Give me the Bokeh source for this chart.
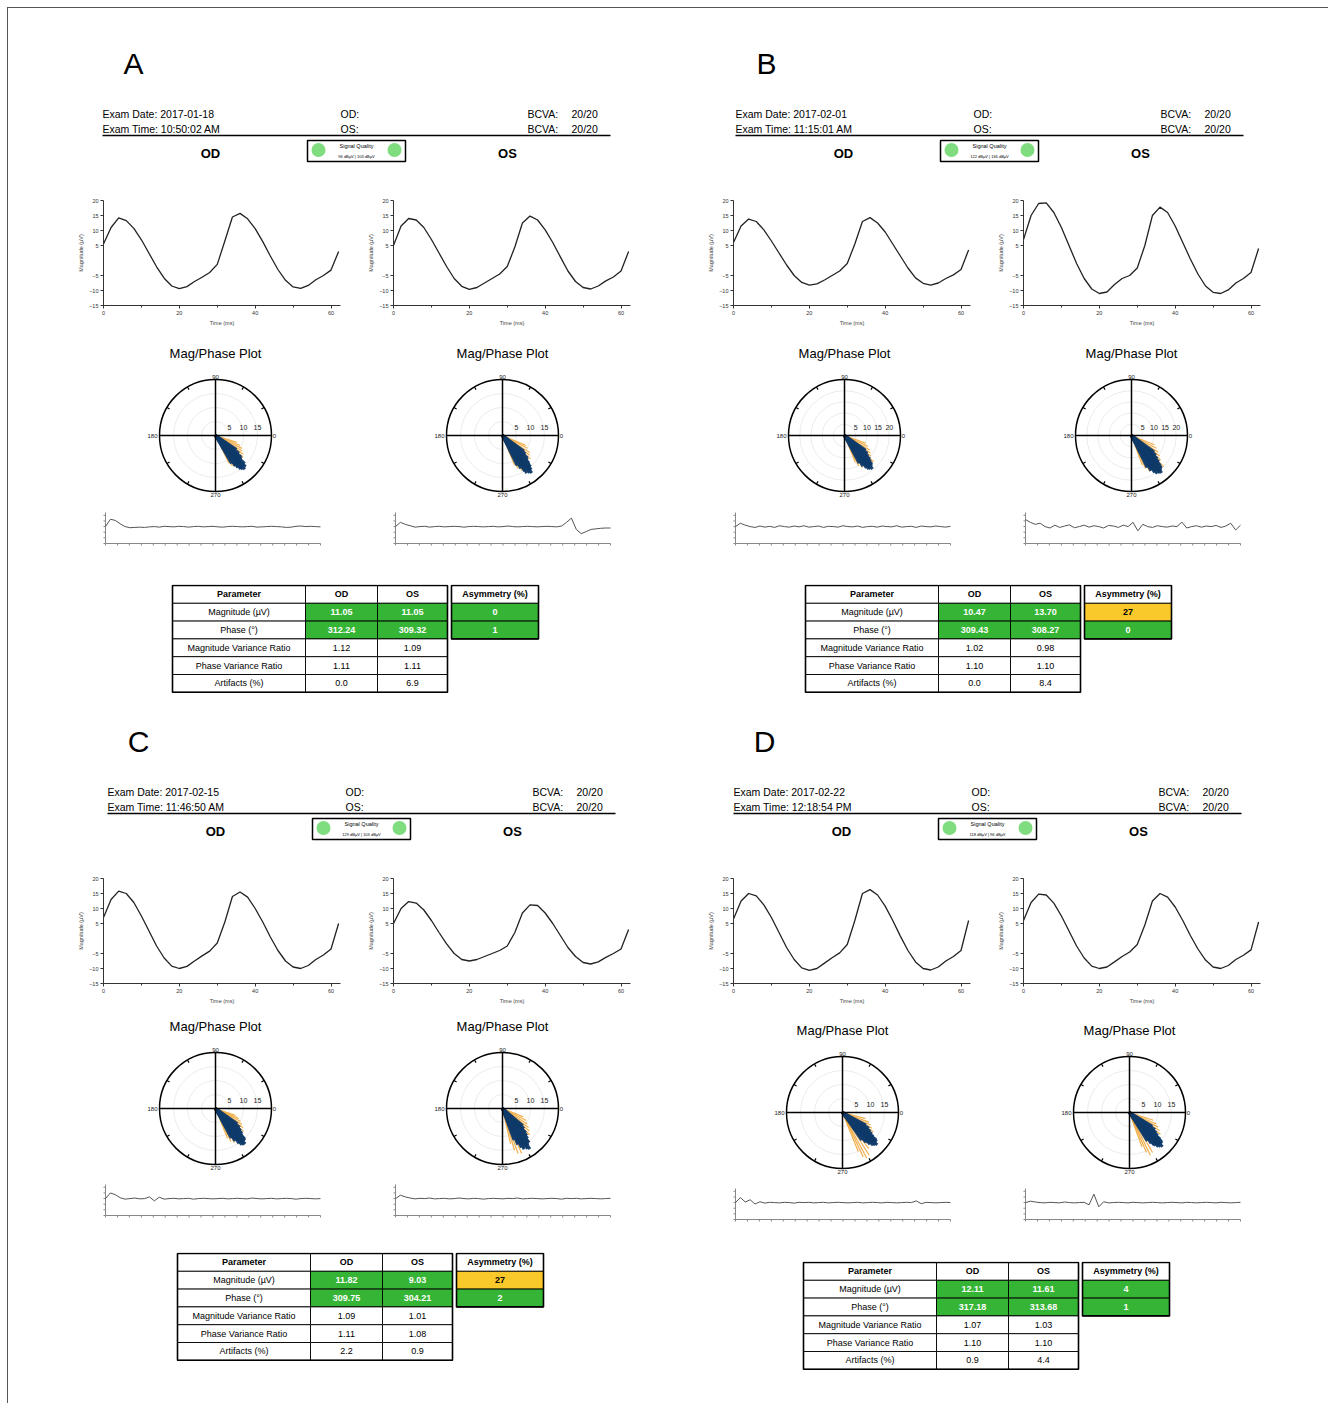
import math
from bokeh.plotting import figure
from bokeh.models import Range1d, Spacer, FixedTicker, SingleIntervalTicker
from bokeh.layouts import row, column
from bokeh.core.properties import value
from bokeh.embed import file_html
from bokeh.resources import INLINE

FONT = "Liberation Sans"

# ---------------- data ----------------
PANELS = ["A", "B", "C", "D"]
EXAM_DATES = ["2017-01-18", "2017-02-01", "2017-02-15", "2017-02-22"]
EXAM_TIMES = ["10:50:02 AM", "11:15:01 AM", "11:46:50 AM", "12:18:54 PM"]
BCVA_OD = ["20/20", "20/20", "20/20", "20/20"]
BCVA_OS = ["20/20", "20/20", "20/20", "20/20"]
SIGNAL_QUALITY = ["96 dBµV | 103 dBµV", "122 dBµV | 136 dBµV",
                  "129 dBµV | 103 dBµV", "118 dBµV | 96 dBµV"]

TABLE_PARAMS = ["Parameter", "Magnitude (µV)", "Phase (°)",
                "Magnitude Variance Ratio", "Phase Variance Ratio", "Artifacts (%)"]
MAG_OD = [11.05, 10.47, 11.82, 12.11]
MAG_OS = [11.05, 13.70, 9.03, 11.61]
PHASE_OD = [312.24, 309.43, 309.75, 317.18]
PHASE_OS = [309.32, 308.27, 304.21, 313.68]
MVR_OD = [1.12, 1.02, 1.09, 1.07]
MVR_OS = [1.09, 0.98, 1.01, 1.03]
PVR_OD = [1.11, 1.10, 1.11, 1.10]
PVR_OS = [1.11, 1.10, 1.08, 1.10]
ART_OD = [0.0, 0.0, 2.2, 0.9]
ART_OS = [6.9, 8.4, 0.9, 4.4]
ASYM_MAG = [0, 27, 27, 4]
ASYM_PHASE = [1, 0, 2, 1]

TIME_MS = [0, 2, 4, 6, 8, 10, 12, 14, 16, 18, 20, 22, 24, 26, 28, 30,
           32, 34, 36, 38, 40, 42, 44, 46, 48, 50, 52, 54, 56, 58, 60, 62]
A_OD_WAVE = [5.5, 11.0, 14.2, 13.3, 10.7, 6.9, 2.4, -2.1, -5.9, -8.5, -9.4, -8.7, -7.0, -5.6, -4.0, -1.3,
             6.5, 14.5, 15.7, 13.9, 10.6, 6.3, 1.5, -3.0, -6.6, -8.8, -9.3, -8.3, -6.4, -5.0, -3.2, 3.0]
A_OS_WAVE = [5.0, 11.5, 14.0, 13.5, 11.0, 7.0, 2.5, -2.0, -6.0, -8.6, -9.6, -9.0, -7.5, -6.0, -4.5, -2.0,
             4.5, 12.5, 14.8, 13.5, 10.2, 6.0, 1.2, -3.5, -7.0, -9.0, -9.5, -8.5, -6.8, -5.5, -3.5, 3.0]
B_OD_WAVE = [6.0, 11.5, 13.8, 13.0, 10.2, 6.5, 2.5, -1.5, -5.0, -7.3, -8.2, -7.8, -6.5, -5.0, -3.5, -1.0,
             5.5, 13.0, 14.3, 12.5, 9.5, 5.5, 1.5, -2.5, -5.8, -7.6, -8.2, -7.5, -6.0, -4.8, -3.0, 3.5]
B_OS_WAVE = [7.0, 15.0, 19.0, 19.2, 16.0, 11.0, 5.0, -1.0, -6.0, -9.5, -11.0, -10.5, -8.0, -6.0, -5.0, -2.5,
             5.0, 15.0, 17.8, 16.0, 11.5, 6.0, 0.5, -4.5, -8.5, -10.6, -11.0, -9.8, -7.5, -6.0, -4.0, 4.0]
C_OD_WAVE = [7.0, 13.0, 15.8, 15.0, 12.0, 7.5, 2.5, -2.5, -6.5, -9.2, -10.0, -9.3, -7.5, -5.8, -4.2, -1.5,
             5.5, 14.0, 15.5, 13.8, 10.0, 5.5, 0.5, -4.0, -7.5, -9.5, -10.0, -9.0, -7.0, -5.5, -3.5, 5.0]
C_OS_WAVE = [5.0, 10.0, 12.3, 11.8, 9.5, 6.0, 2.0, -1.8, -5.0, -7.0, -7.5, -7.0, -6.0, -5.0, -4.0, -2.5,
             2.0, 8.5, 11.2, 11.0, 8.5, 5.0, 1.0, -3.0, -6.0, -8.0, -8.5, -7.8, -6.3, -5.0, -3.5, 3.0]
D_OD_WAVE = [6.5, 12.5, 15.0, 14.2, 11.2, 7.0, 2.0, -3.0, -7.0, -9.8, -10.6, -10.0, -8.2, -6.4, -4.8, -2.0,
             6.0, 15.0, 16.3, 14.5, 10.8, 6.0, 0.8, -4.0, -7.8, -10.0, -10.5, -9.5, -7.5, -6.0, -4.0, 6.0]
D_OS_WAVE = [6.0, 12.0, 14.8, 14.5, 11.8, 7.5, 2.5, -2.5, -6.5, -9.2, -10.0, -9.5, -7.8, -6.0, -4.5, -2.0,
             4.5, 12.5, 15.0, 13.8, 10.5, 6.0, 1.0, -3.5, -7.2, -9.5, -10.0, -9.0, -7.0, -5.6, -3.8, 5.5]

# artifact traces (arbitrary units)
A_OD_TRACE = [0.0, 2.6, 2.2, 1.0, 0.0, -0.4, -0.3, -0.2, -0.3, -0.1, 0.0, -0.2, 0.1, 0.0, -0.1, 0.1, 0.0,
              -0.2, 0.0, 0.1, -0.1, 0.0, 0.1, -0.1, -0.2, 0.0, 0.1, 0.0, -0.1, 0.0, 0.1, -0.2, -0.1, 0.0,
              0.1, 0.0, -0.1, -0.3, -0.2, 0.1, 0.2, 0.0, 0.1, 0.0, -0.1]
A_OS_TRACE = [0.0, 1.5, 0.8, 0.3, -0.2, 0.0, 0.1, -0.2, 0.0, 0.1, -0.1, 0.0, 0.1, 0.0, -0.2, 0.0, 0.1,
              0.0, -0.1, 0.0, 0.1, -0.1, 0.0, 0.2, 0.0, -0.1, 0.0, 0.1, 0.0, -0.1, 0.0, 0.1, 0.0, -0.1,
              0.2, 1.5, 3.0, -1.0, -2.5, -1.8, -1.0, -0.8, -0.6, -0.5, -0.5]
B_OD_TRACE = [0.0, 1.2, 0.5, 0.0, -0.3, 0.2, -0.2, 0.1, -0.3, 0.3, 0.0, -0.2, 0.2, -0.1, 0.3, -0.2, 0.0,
              0.2, -0.3, 0.1, 0.0, -0.2, 0.3, 0.0, -0.1, 0.2, -0.3, 0.0, 0.1, -0.2, 0.2, 0.0, -0.1, 0.3,
              -0.2, 0.0, 0.1, -0.3, 0.2, 0.0, -0.1, 0.2, 0.0, -0.2, 0.1]
B_OS_TRACE = [2.5, 1.5, 0.8, 1.2, 0.0, -0.5, 0.5, -0.3, 0.2, 0.6, -0.4, 0.0, 0.5, -0.2, 0.3, 0.0, -0.5,
              0.4, 0.2, -0.3, 0.5, 0.0, 1.5, -1.5, 0.8, 0.0, -0.3, 0.3, 0.0, -0.2, 0.2, 0.0, 1.6, -0.5,
              0.0, 0.3, -0.2, 0.2, 0.0, 0.4, -0.3, 0.2, 1.2, -1.2, 0.5]
C_OD_TRACE = [0.0, 2.0, 1.4, 0.3, -0.2, 0.0, 0.2, -0.1, 0.0, 0.6, -0.8, 0.5, -0.2, 0.0, 0.1, -0.1, 0.0,
              0.1, -0.2, 0.0, 0.1, 0.0, -0.1, 0.0, 0.1, -0.1, 0.0, 0.1, 0.0, -0.1, 0.2, 0.0, -0.1, 0.0,
              0.1, -0.1, 0.0, 0.1, 0.0, -0.2, 0.0, 0.1, 0.0, -0.1, 0.0]
C_OS_TRACE = [0.0, 1.2, 0.6, 0.2, -0.1, 0.1, 0.0, 0.2, -0.1, 0.0, 0.1, -0.1, 0.0, 0.2, 0.0, -0.1, 0.1,
              0.0, -0.2, 0.0, 0.1, 0.0, -0.1, 0.1, 0.0, 0.2, -0.1, 0.0, 0.1, 0.0, -0.1, 0.0, 0.1, 0.0,
              -0.2, 0.1, 0.0, 0.1, -0.1, 0.0, 0.1, 0.0, -0.1, 0.0, 0.1]
D_OD_TRACE = [0.0, 1.8, 0.2, 1.0, -0.5, 0.3, -0.2, 0.1, 0.0, -0.1, 0.1, 0.0, -0.2, 0.1, 0.0, 0.1, -0.1,
              0.0, 0.1, -0.1, 0.0, 0.1, 0.0, -0.1, 0.0, 0.1, -0.1, 0.0, 0.1, 0.0, -0.1, 0.1, 0.0, -0.1,
              0.0, 0.1, 0.0, 0.6, -0.4, 0.1, 0.0, -0.1, 0.0, 0.1, 0.0]
D_OS_TRACE = [0.0, 0.5, 0.2, 0.0, -0.1, 0.1, 0.0, -0.1, 0.2, 0.0, -0.1, 0.0, 0.1, -0.8, 3.0, -1.5, 0.3,
              -0.1, 0.0, 0.1, 0.0, -0.1, 0.1, 0.0, -0.1, 0.0, 0.1, 0.0, -0.1, 0.0, 0.1, 0.0, -0.1, 0.1,
              0.0, -0.1, 0.0, 0.1, 0.0, -0.1, 0.1, 0.0, -0.1, 0.0, 0.1]

# polar (mag/phase) spokes: angle in degrees, magnitude in µV
POLAR_RMAX = [20, 25, 20, 20]
POLAR_RINGS = [[5, 10, 15], [5, 10, 15, 20], [5, 10, 15], [5, 10, 15]]

A_OD_BLUE_ANG = [300, 303, 305, 307, 308, 309, 310, 311, 312, 313, 314, 315, 316, 318, 320, 323, 326, 306]
A_OD_BLUE_MAG = [11.5, 13.0, 14.0, 15.0, 13.5, 15.5, 14.5, 16.0, 15.0, 14.0, 15.5, 13.0, 14.5, 12.5, 12.0, 10.5, 9.0, 12.0]
A_OD_ORNG_ANG = [296, 299, 302, 322, 326, 330, 334, 338, 342]
A_OD_ORNG_MAG = [11.0, 12.5, 13.0, 12.5, 12.0, 11.0, 10.5, 9.5, 8.0]
A_OS_BLUE_ANG = [296, 299, 302, 304, 306, 307, 308, 309, 310, 311, 312, 314, 316, 318, 321, 324, 303, 313]
A_OS_BLUE_MAG = [12.0, 13.5, 15.0, 14.0, 16.5, 15.0, 17.0, 15.5, 16.0, 14.5, 15.0, 13.5, 12.5, 12.0, 10.5, 9.5, 16.0, 14.0]
A_OS_ORNG_ANG = [292, 295, 299, 320, 324, 328, 333, 337]
A_OS_ORNG_MAG = [11.5, 13.0, 14.5, 13.0, 12.0, 11.5, 10.0, 9.0]

B_OD_BLUE_ANG = [298, 301, 304, 306, 307, 308, 309, 310, 311, 312, 313, 315, 317, 319, 322, 325, 303, 314]
B_OD_BLUE_MAG = [14.0, 16.0, 17.5, 18.5, 17.0, 19.0, 18.0, 19.5, 18.5, 17.0, 18.0, 16.5, 15.5, 14.0, 13.0, 11.5, 15.0, 17.5]
B_OD_ORNG_ANG = [292, 295, 299, 322, 326, 330, 335, 340, 318]
B_OD_ORNG_MAG = [13.0, 15.0, 16.5, 15.0, 14.0, 13.0, 11.5, 10.0, 17.5]
B_OS_BLUE_ANG = [296, 299, 302, 304, 306, 307, 308, 309, 310, 311, 312, 314, 316, 318, 321, 324, 301, 313]
B_OS_BLUE_MAG = [16.0, 18.0, 19.5, 20.5, 19.0, 21.0, 20.0, 21.5, 20.5, 19.0, 20.0, 18.5, 17.0, 15.5, 14.0, 12.5, 17.5, 19.5]
B_OS_ORNG_ANG = [290, 293, 297, 320, 324, 328, 333, 338, 316]
B_OS_ORNG_MAG = [14.0, 16.0, 18.0, 17.0, 15.5, 14.0, 12.5, 11.0, 20.0]

C_OD_BLUE_ANG = [298, 301, 304, 306, 307, 308, 309, 310, 311, 312, 313, 315, 317, 319, 322, 325, 303, 314]
C_OD_BLUE_MAG = [12.0, 13.5, 15.0, 16.0, 14.5, 16.5, 15.0, 16.5, 15.5, 14.5, 15.5, 13.5, 13.0, 12.0, 11.0, 9.5, 13.0, 15.0]
C_OD_ORNG_ANG = [292, 295, 299, 321, 325, 329, 333, 337, 341]
C_OD_ORNG_MAG = [11.5, 13.0, 14.0, 13.0, 12.0, 11.0, 10.0, 9.0, 7.5]
C_OS_BLUE_ANG = [290, 293, 296, 298, 300, 302, 303, 304, 305, 306, 308, 310, 312, 314, 317, 320, 299, 307]
C_OS_BLUE_MAG = [12.0, 14.0, 15.5, 16.5, 15.0, 17.0, 16.0, 17.5, 16.0, 15.0, 15.5, 14.0, 13.0, 12.0, 10.5, 9.5, 16.0, 14.5]
C_OS_ORNG_ANG = [283, 286, 289, 293, 316, 320, 324, 328, 333, 338]
C_OS_ORNG_MAG = [13.0, 15.5, 17.0, 17.5, 13.5, 12.5, 11.5, 10.5, 9.5, 8.0]

D_OD_BLUE_ANG = [305, 308, 311, 313, 314, 315, 316, 317, 318, 319, 320, 322, 324, 326, 329, 332, 310, 321]
D_OD_BLUE_MAG = [12.0, 13.5, 15.0, 16.0, 14.5, 16.5, 15.0, 17.0, 16.0, 15.0, 16.0, 14.0, 13.0, 12.0, 11.0, 9.5, 14.0, 15.5]
D_OD_ORNG_ANG = [292, 295, 298, 302, 306, 328, 332, 336, 340, 345]
D_OD_ORNG_MAG = [15.0, 17.5, 18.5, 18.0, 16.0, 13.0, 12.0, 11.0, 10.0, 8.5]
D_OS_BLUE_ANG = [302, 305, 308, 310, 311, 312, 313, 314, 315, 316, 317, 319, 321, 323, 326, 329, 307, 318]
D_OS_BLUE_MAG = [12.0, 13.5, 15.0, 16.0, 14.5, 16.5, 15.5, 17.0, 16.0, 15.0, 16.0, 14.5, 13.0, 12.0, 11.0, 9.5, 14.5, 15.5]
D_OS_ORNG_ANG = [290, 293, 296, 300, 325, 329, 333, 337, 342]
D_OS_ORNG_MAG = [13.0, 15.5, 17.0, 16.5, 13.5, 12.5, 11.5, 10.5, 9.0]

WAVE_OD = [A_OD_WAVE, B_OD_WAVE, C_OD_WAVE, D_OD_WAVE]
WAVE_OS = [A_OS_WAVE, B_OS_WAVE, C_OS_WAVE, D_OS_WAVE]
TRACE_OD = [A_OD_TRACE, B_OD_TRACE, C_OD_TRACE, D_OD_TRACE]
TRACE_OS = [A_OS_TRACE, B_OS_TRACE, C_OS_TRACE, D_OS_TRACE]
POLAR_OD = [(A_OD_BLUE_ANG, A_OD_BLUE_MAG, A_OD_ORNG_ANG, A_OD_ORNG_MAG),
            (B_OD_BLUE_ANG, B_OD_BLUE_MAG, B_OD_ORNG_ANG, B_OD_ORNG_MAG),
            (C_OD_BLUE_ANG, C_OD_BLUE_MAG, C_OD_ORNG_ANG, C_OD_ORNG_MAG),
            (D_OD_BLUE_ANG, D_OD_BLUE_MAG, D_OD_ORNG_ANG, D_OD_ORNG_MAG)]
POLAR_OS = [(A_OS_BLUE_ANG, A_OS_BLUE_MAG, A_OS_ORNG_ANG, A_OS_ORNG_MAG),
            (B_OS_BLUE_ANG, B_OS_BLUE_MAG, B_OS_ORNG_ANG, B_OS_ORNG_MAG),
            (C_OS_BLUE_ANG, C_OS_BLUE_MAG, C_OS_ORNG_ANG, C_OS_ORNG_MAG),
            (D_OS_BLUE_ANG, D_OS_BLUE_MAG, D_OS_ORNG_ANG, D_OS_ORNG_MAG)]

# ---------------- layout constants ----------------
PANEL_W = 633
# header height, header dy, spacer after waves, after polar, after trace, dx (header/table), polar dx, wave dx
PANEL_LAYOUT = [(182, 0, 7, 3, 36, 0, 0, 0), (182, 0, 7, 3, 36, 0, -4, -3),
                (172, -10, 2, 2, 32, 5, 0, 0), (172, -10, 6, 2, 37, -2, -6, -3)]

GREEN = "#36b436"
YELLOW = "#f9c92c"
BLUE = "#0f3a69"
ORANGE = "#f0a637"

TRACE_XMAX = 180
TRACE_TICKS_X = [0, 10, 20, 30, 40, 50, 60, 70, 80, 90, 100, 110, 120, 130, 140, 150, 160, 170, 180]
TRACE_TICKS_Y = [-6, -4, -2, 0, 2, 4]


def base_fig(w, h, xr, yr):
    p = figure(width=w, height=h, x_range=Range1d(*xr), y_range=Range1d(*yr),
               x_axis_type=None, y_axis_type=None, toolbar_location=None,
               output_backend="svg", min_border=0)
    p.outline_line_color = None
    p.background_fill_color = "white"
    p.border_fill_color = "white"
    return p


def txt(p, x, y, s, size, align="left", style="normal", color="black"):
    p.text(x=[x], y=[y], text=[s], text_font=value(FONT), text_font_size=size,
           text_align=align, text_baseline="middle", text_font_style=style,
           text_color=color)


def make_header(i, h, dy, dx):
    p = base_fig(PANEL_W, h, (0, PANEL_W), (h, 0))
    txt(p, 125 + dx, 55 + dy, PANELS[i], "30px", align="center")
    txt(p, 94 + dx, 105 + dy, "Exam Date: " + EXAM_DATES[i], "10.5px")
    txt(p, 94 + dx, 120 + dy, "Exam Time: " + EXAM_TIMES[i], "10.5px")
    txt(p, 332 + dx, 105 + dy, "OD:", "10.5px")
    txt(p, 332 + dx, 120 + dy, "OS:", "10.5px")
    txt(p, 519 + dx, 105 + dy, "BCVA:", "10.5px")
    txt(p, 563 + dx, 105 + dy, BCVA_OD[i], "10.5px")
    txt(p, 519 + dx, 120 + dy, "BCVA:", "10.5px")
    txt(p, 563 + dx, 120 + dy, BCVA_OS[i], "10.5px")
    p.segment(x0=[94 + dx], y0=[127 + dy], x1=[602 + dx], y1=[127 + dy],
              line_color="black", line_width=1.3)
    txt(p, 202 + dx, 145 + dy, "OD", "13px", align="center", style="bold")
    txt(p, 499 + dx, 145 + dy, "OS", "13px", align="center", style="bold")
    p.quad(left=[299 + dx], right=[397 + dx], top=[132 + dy], bottom=[153 + dy],
           fill_color="white", line_color="black", line_width=1.5)
    p.circle(x=[310 + dx, 386 + dx], y=[141.5 + dy, 141.5 + dy], radius=7,
             fill_color="#7fdc7f", line_color=None)
    txt(p, 348 + dx, 137 + dy, "Signal Quality", "5.5px", align="center")
    txt(p, 348 + dx, 148 + dy, SIGNAL_QUALITY[i], "4px", align="center")
    return p


def make_wave(vals):
    p = figure(width=270, height=145, x_range=Range1d(0, 62.5), y_range=Range1d(-15, 20),
               toolbar_location=None, output_backend="svg",
               min_border_left=25, min_border_right=5, min_border_top=10, min_border_bottom=30)
    p.line(TIME_MS, vals, line_color="#222222", line_width=1.3, line_join="round")
    p.grid.visible = False
    p.outline_line_color = None
    p.xaxis.ticker = SingleIntervalTicker(interval=20, num_minor_ticks=2)
    p.yaxis.ticker = FixedTicker(ticks=[-15, -10, -5, 5, 10, 15, 20])
    p.xaxis.axis_label = "Time (ms)"
    p.yaxis.axis_label = "Magnitude (µV)"
    for ax in p.axis:
        ax.axis_line_color = "#333333"
        ax.axis_line_width = 1
        ax.major_tick_line_color = "#333333"
        ax.minor_tick_line_color = "#333333"
        ax.major_tick_out = 3
        ax.major_tick_in = 0
        ax.minor_tick_in = 0
        ax.major_label_standoff = 2
        ax.major_label_text_font = FONT
        ax.major_label_text_font_size = "5.5px"
        ax.major_label_text_color = "#333333"
        ax.axis_label_text_font = FONT
        ax.axis_label_text_font_size = "5.5px"
        ax.axis_label_text_font_style = "normal"
        ax.axis_label_standoff = 2
    p.xaxis.minor_tick_out = 2
    p.yaxis.minor_tick_out = 0
    return p


def make_polar(rmax, rings, b_ang, b_mag, o_ang, o_mag):
    ppu = 56.0 / rmax
    p = base_fig(150, 163, (-75 / ppu, 75 / ppu), (-70 / ppu, 93 / ppu))
    p.text(x=[0], y=[82 / ppu], text=["Mag/Phase Plot"], text_font=value(FONT),
           text_font_size="13px", text_align="center", text_baseline="middle")
    p.circle(x=[0] * len(rings), y=[0] * len(rings), radius=rings,
             fill_color=None, line_color="#e2e2e2", line_width=0.7)
    ox = [m * math.cos(math.radians(a)) for a, m in zip(o_ang, o_mag)]
    oy = [m * math.sin(math.radians(a)) for a, m in zip(o_ang, o_mag)]
    p.segment(x0=[0] * len(ox), y0=[0] * len(oy), x1=ox, y1=oy,
              line_color=ORANGE, line_width=1.2, line_alpha=0.9)
    bx = [m * math.cos(math.radians(a)) for a, m in zip(b_ang, b_mag)]
    by = [m * math.sin(math.radians(a)) for a, m in zip(b_ang, b_mag)]
    p.segment(x0=[0] * len(bx), y0=[0] * len(by), x1=bx, y1=by,
              line_color=BLUE, line_width=3, line_alpha=0.95)
    p.circle(x=[0], y=[0], radius=[rmax], fill_color=None, line_color="black", line_width=1.5)
    p.segment(x0=[-rmax, 0], y0=[0, -rmax], x1=[rmax, 0], y1=[0, rmax],
              line_color="black", line_width=1.5)
    tick_angles = [30, 60, 120, 150, 210, 240, 300, 330]
    t_in = rmax - 3.0 / ppu
    p.segment(x0=[rmax * math.cos(math.radians(a)) for a in tick_angles],
              y0=[rmax * math.sin(math.radians(a)) for a in tick_angles],
              x1=[t_in * math.cos(math.radians(a)) for a in tick_angles],
              y1=[t_in * math.sin(math.radians(a)) for a in tick_angles],
              line_color="black", line_width=1.2)
    p.text(x=[0, 0, -rmax - 7 / ppu, rmax + 3 / ppu],
           y=[rmax + 3 / ppu, -rmax - 3 / ppu, 0, 0],
           text=["90", "270", "180", "0"], text_font=value(FONT), text_font_size="6px",
           text_align="center", text_baseline="middle", text_color="#222222")
    p.text(x=rings, y=[8 / ppu] * len(rings), text=[str(r) for r in rings],
           text_font=value(FONT), text_font_size="7px", text_align="center",
           text_baseline="middle", text_color="#222222")
    return p


def make_trace(vals):
    n = len(vals)
    xs = [k * TRACE_XMAX / (n - 1) for k in range(n)]
    sx = 215.0 / TRACE_XMAX           # px per unit
    ylo, yhi = TRACE_TICKS_Y[0], 5
    sy = 31.0 / (yhi - ylo)
    p = base_fig(228, 40, (-8 / sx, TRACE_XMAX + 5 / sx), (ylo - 5 / sy, yhi + 4 / sy))
    tick_len_x = 2 / sy
    tick_len_y = 2 / sx
    # light axes (no labels)
    p.segment(x0=[0, 0], y0=[ylo, ylo], x1=[TRACE_XMAX, 0], y1=[ylo, yhi],
              line_color="#888888", line_width=1)
    p.segment(x0=TRACE_TICKS_X, y0=[ylo] * len(TRACE_TICKS_X),
              x1=TRACE_TICKS_X, y1=[ylo - tick_len_x] * len(TRACE_TICKS_X),
              line_color="#888888", line_width=1)
    p.segment(x0=[0] * len(TRACE_TICKS_Y), y0=TRACE_TICKS_Y,
              x1=[-tick_len_y] * len(TRACE_TICKS_Y), y1=TRACE_TICKS_Y,
              line_color="#888888", line_width=1)
    p.line(xs, vals, line_color="#555555", line_width=1)
    return p


def make_table(i, dx):
    p = base_fig(PANEL_W, 112, (0, PANEL_W), (112, 0))
    x0 = 164 + dx
    widths = [133, 72, 70]
    lefts = [x0, x0 + widths[0], x0 + widths[0] + widths[1]]
    top0 = 1.0
    rh = 17.8
    rows_text = [
        ["OD", "OS"],
        ["%.2f" % MAG_OD[i], "%.2f" % MAG_OS[i]],
        ["%.2f" % PHASE_OD[i], "%.2f" % PHASE_OS[i]],
        ["%.2f" % MVR_OD[i], "%.2f" % MVR_OS[i]],
        ["%.2f" % PVR_OD[i], "%.2f" % PVR_OS[i]],
        ["%.1f" % ART_OD[i], "%.1f" % ART_OS[i]],
    ]
    L, R, T, B, F = [], [], [], [], []
    for r in range(6):
        for c in range(3):
            L.append(lefts[c]); R.append(lefts[c] + widths[c])
            T.append(top0 + r * rh); B.append(top0 + (r + 1) * rh)
            F.append(GREEN if (r in (1, 2) and c > 0) else "white")
    ax0 = x0 + sum(widths) + 4
    aw = 87
    asym_vals = [None, ASYM_MAG[i], ASYM_PHASE[i]]
    for r in range(3):
        L.append(ax0); R.append(ax0 + aw)
        T.append(top0 + r * rh); B.append(top0 + (r + 1) * rh)
        if r == 0:
            F.append("white")
        elif r == 1 and asym_vals[r] >= 20:
            F.append(YELLOW)
        else:
            F.append(GREEN)
    p.quad(left=L, right=R, top=T, bottom=B, fill_color=F, line_color="black", line_width=0.9)
    p.quad(left=[x0, ax0], right=[x0 + sum(widths), ax0 + aw], top=[top0, top0],
           bottom=[top0 + 6 * rh, top0 + 3 * rh], fill_color=None, line_color="black", line_width=1.6)
    for r in range(6):
        yc = top0 + (r + 0.5) * rh
        txt(p, lefts[0] + widths[0] / 2, yc, TABLE_PARAMS[r], "9px", align="center",
            style="bold" if r == 0 else "normal")
        for c in range(2):
            green = r in (1, 2)
            txt(p, lefts[c + 1] + widths[c + 1] / 2, yc, rows_text[r][c], "9px", align="center",
                style="bold" if (r == 0 or green) else "normal",
                color="white" if green else "black")
    for r in range(3):
        yc = top0 + (r + 0.5) * rh
        if r == 0:
            txt(p, ax0 + aw / 2, yc, "Asymmetry (%)", "9px", align="center", style="bold")
        else:
            yellow = (r == 1 and asym_vals[r] >= 20)
            txt(p, ax0 + aw / 2, yc, str(asym_vals[r]), "9px", align="center", style="bold",
                color="black" if yellow else "white")
    return p


def make_panel(i):
    hh, dy, sp1, sp2, sp3, dx, pdx, wdx = PANEL_LAYOUT[i]
    header = make_header(i, hh, dy, dx)
    wave_row = row(Spacer(width=67 + wdx, height=145), make_wave(WAVE_OD[i]),
                   Spacer(width=20, height=145), make_wave(WAVE_OS[i]))
    rmax = POLAR_RMAX[i]
    rings = POLAR_RINGS[i]
    polar_row = row(Spacer(width=132 + pdx, height=163), make_polar(rmax, rings, *POLAR_OD[i]),
                    Spacer(width=137, height=163), make_polar(rmax, rings, *POLAR_OS[i]))
    trace_row = row(Spacer(width=89 + wdx, height=40), make_trace(TRACE_OD[i]),
                    Spacer(width=62, height=40), make_trace(TRACE_OS[i]))
    table = make_table(i, dx)
    return column(header, wave_row, Spacer(width=10, height=sp1), polar_row,
                  Spacer(width=10, height=sp2), trace_row, Spacer(width=10, height=sp3), table)


top = row(make_panel(0), make_panel(1), Spacer(width=54, height=10))
bottom = row(make_panel(2), make_panel(3))
framed = column(top, bottom, Spacer(width=10, height=30),
                styles={"border-top": "1px solid #555555", "border-left": "1px solid #555555"})
page = column(Spacer(width=10, height=7), row(Spacer(width=7, height=10), framed))

open("out.html", "w").write(file_html(page, INLINE))
